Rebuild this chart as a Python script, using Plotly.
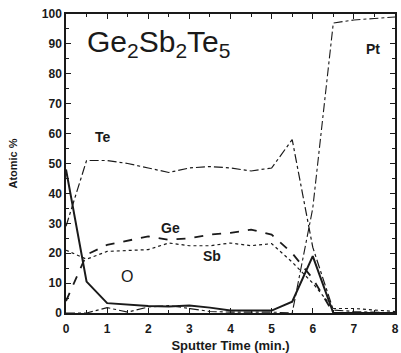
import plotly.graph_objects as go

time = [0, 0.5, 1, 1.5, 2, 2.5, 3, 3.5, 4, 4.5, 5, 5.5, 6, 6.5, 7, 7.5, 8]
te = [29, 51, 51, 50, 48.5, 47, 48.5, 49, 48.5, 47.5, 48.5, 58, 22, 1, 0.5, 0.3, 0]
ge = [4, 19.5, 22.8, 24.2, 25.6, 24.5, 25, 26.2, 26.8, 27.9, 26.2, 20, 11.5, 0, 0, 0, 0]
sb = [21, 18, 20.6, 21, 21.2, 23.4, 22.5, 22.5, 23.4, 22.5, 23.2, 17, 10, 1.5, 1.5, 1, 0.5]
o = [48, 10.5, 3.3, 2.8, 2.3, 2.2, 2.5, 1.8, 0.8, 0.8, 0.8, 3.8, 19, 0, 0, 0, 0]
pt = [0, 0, 1.8, 0.3, 2, 2.5, 1.5, 0.5, 0.3, 0.3, 0.3, 0, 35, 97, 98, 98.5, 99]

labels = [("Te", 0.9, 59, 14, "bold"), ("Ge", 2.55, 28.5, 14, "bold"), ("Sb", 3.56, 19.2, 14, "bold"),
          ("O", 1.49, 12.1, 16, "normal"), ("Pt", 7.47, 88.4, 14, "bold")]

ink = "#1a1a1a"
fig = go.Figure()
fig.add_trace(go.Scatter(x=time, y=te, mode="lines", line=dict(color=ink, width=1.2, dash="dashdot")))
fig.add_trace(go.Scatter(x=time, y=ge, mode="lines", line=dict(color=ink, width=1.8, dash="dash")))
fig.add_trace(go.Scatter(x=time, y=sb, mode="lines", line=dict(color=ink, width=1.2, dash="dot")))
fig.add_trace(go.Scatter(x=time, y=o, mode="lines", line=dict(color=ink, width=2)))
fig.add_trace(go.Scatter(x=time, y=pt, mode="lines", line=dict(color=ink, width=1.1, dash="dashdot")))

for txt, xx, yy, sz, wt in labels:
    fig.add_annotation(x=xx, y=yy, text=txt, showarrow=False,
                       font=dict(family="Liberation Sans", size=sz, color=ink, weight=wt))

fig.add_annotation(x=0.47, y=90, xanchor="left", yanchor="middle", showarrow=False,
                   text="Ge<sub>2</sub>Sb<sub>2</sub>Te<sub>5</sub>",
                   font=dict(family="Liberation Sans", size=30, color=ink))

axis_common = dict(
    showline=True, linecolor=ink, linewidth=1.5, mirror="ticks",
    ticks="inside", ticklen=5, tickwidth=1.2, tickcolor=ink,
    showgrid=False, zeroline=False,
    tickfont=dict(family="Liberation Sans", size=12, color=ink, weight="bold"),
)
fig.update_xaxes(range=[0, 8], dtick=1, tick0=0, ticklabelstandoff=4,
                 minor=dict(ticks="inside", ticklen=3, dtick=0.5, tickcolor=ink),
                 title=dict(text="Sputter Time (min.)",
                            font=dict(family="Liberation Sans", size=13, color=ink, weight="bold"),
                            standoff=6),
                 **axis_common)
fig.update_yaxes(range=[0, 100], dtick=10, tick0=0,
                 minor=dict(ticks="inside", ticklen=3, dtick=5, tickcolor=ink),
                 title=dict(text="Atomic %",
                            font=dict(family="Liberation Sans", size=11, color=ink, weight="bold"),
                            standoff=22),
                 **axis_common)

fig.update_layout(width=401, height=353, margin=dict(l=66, r=2, t=14, b=40),
                  showlegend=False, plot_bgcolor="white", paper_bgcolor="white")

fig.write_html("out.html")
